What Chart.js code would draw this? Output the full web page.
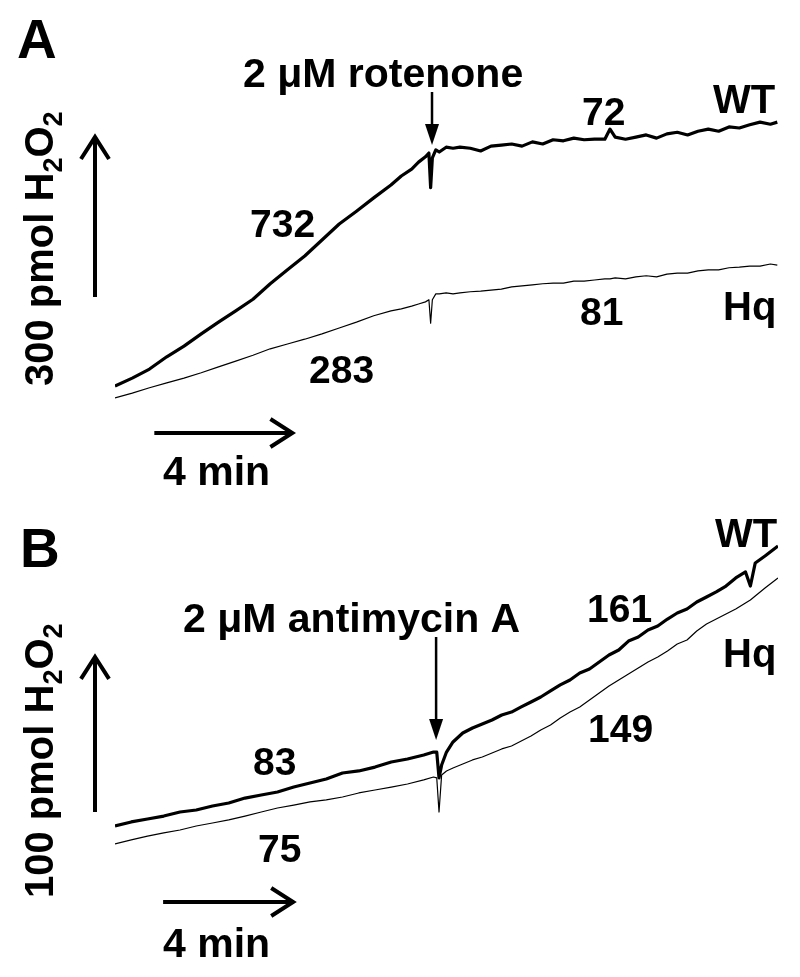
<!DOCTYPE html>
<html>
<head>
<meta charset="utf-8">
<script src="https://cdn.jsdelivr.net/npm/chart.js@4.4.1/dist/chart.umd.min.js"></script>
<style>
  html, body { margin: 0; padding: 0; background: #fff; }
  #figure { position: relative; width: 800px; height: 977px; }
  #figure canvas { position: absolute; left: 0; }
</style>
</head>
<body>
<div id="figure">
  <canvas id="panelA" width="800" height="488" style="top:0"></canvas>
  <canvas id="panelB" width="800" height="489" style="top:488px"></canvas>
</div>
<script>
// Panel A: 2 uM rotenone. Time in min, H2O2 in pmol above the start of the record
const timeA = [0, 0.5, 1, 1.5, 2, 2.5, 3, 3.5, 4, 4.5, 5, 5.5, 6, 6.5, 7, 7.5, 8, 8.3, 8.6, 8.8,
  9.0, 9.1, 9.15, 9.2, 9.3, 9.4, 9.6, 9.8, 10, 10.3, 10.6, 10.9, 11.2, 11.5, 11.8, 12.1, 12.4, 12.7,
  13, 13.3, 13.6, 13.9, 14.2, 14.35, 14.5, 14.8, 15.1, 15.4, 15.7, 16, 16.3, 16.6, 16.9, 17.2, 17.5,
  17.8, 18.1, 18.4, 18.7, 19.0, 19.2];
const wtA = [26, 41, 58, 81, 101, 124, 146, 167, 189, 218, 244, 270, 300, 330, 354, 379, 403, 420, 433, 446,
  456, 463, 398, 454, 469, 465, 474, 472, 474, 472, 467, 476, 478, 480, 476, 484, 480, 488,
  486, 491, 488, 489, 489, 508, 493, 489, 493, 497, 491, 499, 502, 497, 504, 508, 504,
  512, 510, 516, 521, 517, 521];
const hqA = [4, 13, 23, 32, 41, 51, 62, 73, 84, 96, 105, 114, 124, 135, 146, 158, 167, 171, 176, 180,
  184, 188, 144, 188, 199, 199, 201, 199, 201, 203, 204, 206, 208, 212, 214, 216, 218, 219,
  219, 223, 223, 225, 227, 227, 229, 227, 231, 233, 231, 236, 238, 238, 242, 244, 244,
  248, 249, 251, 251, 255, 253];
const rotenoneTime = 9.19;
const rateLabelsA = ['732', '283', '72', '81'];

// Panel B: 2 uM antimycin A
const timeB = [0, 0.5, 1, 1.5, 2, 2.5, 3, 3.5, 4, 4.5, 5, 5.5, 6, 6.5, 7, 7.5, 8, 8.5, 9, 9.5,
  9.8, 9.9, 9.97, 10.05, 10.2, 10.4, 10.7, 11, 11.3, 11.6, 11.9, 12.2, 12.5, 12.8, 13.1, 13.4,
  13.7, 14, 14.3, 14.6, 14.9, 15.2, 15.5, 15.8, 16.1, 16.4, 16.7, 17, 17.3, 17.6, 17.9, 18.2,
  18.5, 18.8, 19.1, 19.4, 19.55, 19.7, 20, 20.2, 20.4];
const wtB = [15.5, 18.1, 20, 21.9, 24.5, 25.8, 28.4, 30.3, 33.5, 35.5, 37.4, 40.6, 43.2, 45.8, 49.7, 51, 53.5, 56.8, 58.7, 61.3,
  63.2, 63.2, 46.5, 54.8, 63.2, 69.7, 75.5, 78.7, 81.3, 83.9, 87.1, 89, 92.3, 95.5, 98.7, 102.6,
  106.5, 109.7, 114.2, 116.8, 121.3, 125.8, 129, 134.8, 137.4, 141.9, 144.5, 149, 152.9, 155.5, 160, 163.2,
  166.5, 170.3, 175.5, 179.4, 170.3, 185.2, 189.7, 192.9, 196.1];
const hqB = [3.9, 6.5, 9, 11, 12.9, 15.5, 17.4, 19.4, 21.9, 24.5, 27.1, 29, 31, 32.3, 34.2, 36.8, 38.7, 40.6, 42.6, 45.2,
  47.1, 46.5, 24.5, 48.4, 51, 52.9, 55.5, 58.1, 60, 62.6, 65.2, 67.1, 70.3, 73.5, 77.4, 80.6,
  85.2, 89, 92.3, 96.8, 101.3, 105.8, 109.7, 113.5, 117.4, 121.3, 124.5, 128.4, 132.9, 135.5, 141.3, 145.8,
  149, 152.3, 155.5, 159.4, 161.3, 163.9, 169, 172.3, 175.5];
const antimycinTime = 9.88;
const rateLabelsB = ['83', '75', '161', '149'];

// scale bars: [start, start + length]
const timeBarA = [1.14, 5.14];
const pmolBarA = [193, 493];
const timeBarB = [1.48, 5.48];
const pmolBarB = [24.5, 124.5];

const FONT = '"Liberation Sans", Arial, Helvetica, sans-serif';

function txt(ctx, s, x, y, size) {
  ctx.font = `bold ${size}px ${FONT}`;
  ctx.fillText(s, x, y);
}

// line ending in an open (chevron) head
function openArrow(ctx, x1, y1, x2, y2) {
  const a = Math.atan2(y2 - y1, x2 - x1), h = 26, w = 0.57;
  ctx.save();
  ctx.lineWidth = 4;
  ctx.lineCap = 'butt';
  ctx.lineJoin = 'miter';
  ctx.beginPath();
  ctx.moveTo(x1, y1);
  ctx.lineTo(x2 - 2 * Math.cos(a), y2 - 2 * Math.sin(a));
  ctx.moveTo(x2 - h * Math.cos(a - w), y2 - h * Math.sin(a - w));
  ctx.lineTo(x2, y2);
  ctx.lineTo(x2 - h * Math.cos(a + w), y2 - h * Math.sin(a + w));
  ctx.stroke();
  ctx.restore();
}

// addition marker: thin line with a solid head pointing down
function dropArrow(ctx, x, yTop, yTip) {
  ctx.save();
  ctx.lineWidth = 2.5;
  ctx.beginPath();
  ctx.moveTo(x, yTop);
  ctx.lineTo(x, yTip - 18);
  ctx.stroke();
  ctx.beginPath();
  ctx.moveTo(x - 7, yTip - 21);
  ctx.lineTo(x + 7, yTip - 21);
  ctx.lineTo(x, yTip);
  ctx.closePath();
  ctx.fill();
  ctx.restore();
}

// vertical "N pmol H2O2" label, reading bottom to top
function yLabel(ctx, amount, x, y) {
  ctx.save();
  ctx.translate(x, y);
  ctx.rotate(-Math.PI / 2);
  const big = `bold 40px ${FONT}`, small = `bold 27px ${FONT}`;
  let cx = 0;
  const parts = [[amount + ' pmol H', big, 0], ['2', small, 9], ['O', big, 0], ['2', small, 9]];
  parts.forEach(([s, f, dy]) => {
    ctx.font = f;
    ctx.fillText(s, cx, dy);
    cx += ctx.measureText(s).width;
  });
  ctx.restore();
}

function traceChart(id, times, wt, hq, xMax, yMax, padding, decorate) {
  const pts = arr => times.map((t, i) => ({ x: t, y: arr[i] }));
  return new Chart(document.getElementById(id), {
    type: 'line',
    data: {
      datasets: [
        { label: 'WT', data: pts(wt), borderColor: '#000', borderWidth: 3.2, pointRadius: 0,
          tension: 0, borderJoinStyle: 'round' },
        { label: 'Hq', data: pts(hq), borderColor: '#000', borderWidth: 1.2, pointRadius: 0,
          tension: 0, borderJoinStyle: 'round' }
      ]
    },
    options: {
      responsive: false,
      animation: false,
      layout: { padding },
      plugins: { legend: { display: false }, tooltip: { enabled: false } },
      scales: {
        x: { type: 'linear', display: false, min: 0, max: xMax },
        y: { type: 'linear', display: false, min: 0, max: yMax }
      }
    },
    plugins: [{
      id: 'decor',
      afterDraw(chart) {
        const ctx = chart.ctx;
        ctx.save();
        ctx.fillStyle = '#000';
        ctx.strokeStyle = '#000';
        ctx.textBaseline = 'alphabetic';
        decorate(ctx, chart.scales.x, chart.scales.y);
        ctx.restore();
      }
    }]
  });
}

traceChart('panelA', timeA, wtA, hqA, 19.22, 600,
  { left: 115, right: 22, top: 80, bottom: 88 },
  (ctx, xs, ys) => {
    txt(ctx, 'A', 17, 58, 55);
    yLabel(ctx, '300', 53, 386);
    openArrow(ctx, 95, ys.getPixelForValue(pmolBarA[0]), 95, ys.getPixelForValue(pmolBarA[1]));
    openArrow(ctx, xs.getPixelForValue(timeBarA[0]), 433, xs.getPixelForValue(timeBarA[1]), 433);
    txt(ctx, '4 min', 163, 485, 41);
    txt(ctx, '2 \u03bcM rotenone', 243, 87, 41);
    dropArrow(ctx, xs.getPixelForValue(rotenoneTime), 92, 145);
    txt(ctx, rateLabelsA[0], 250, 237, 39);
    txt(ctx, rateLabelsA[1], 309, 383, 39);
    txt(ctx, rateLabelsA[2], 582, 125, 39);
    txt(ctx, rateLabelsA[3], 580, 325, 39);
    txt(ctx, 'WT', 713, 113, 40);
    txt(ctx, 'Hq', 723, 320, 40);
  });

traceChart('panelB', timeB, wtB, hqB, 20.4, 200,
  { left: 115, right: 22, top: 52, bottom: 127 },
  (ctx, xs, ys) => {
    txt(ctx, 'B', 20, 79, 55);
    yLabel(ctx, '100', 53, 410);
    openArrow(ctx, 95, ys.getPixelForValue(pmolBarB[0]), 95, ys.getPixelForValue(pmolBarB[1]));
    openArrow(ctx, xs.getPixelForValue(timeBarB[0]), 414, xs.getPixelForValue(timeBarB[1]), 414);
    txt(ctx, '4 min', 163, 469, 41);
    txt(ctx, '2 \u03bcM antimycin A', 183, 144, 41);
    dropArrow(ctx, xs.getPixelForValue(antimycinTime), 149, 252);
    txt(ctx, rateLabelsB[0], 253, 287, 39);
    txt(ctx, rateLabelsB[1], 258, 374, 39);
    txt(ctx, rateLabelsB[2], 587, 134, 39);
    txt(ctx, rateLabelsB[3], 588, 254, 39);
    txt(ctx, 'WT', 715, 59, 40);
    txt(ctx, 'Hq', 723, 179, 40);
  });
</script>
</body>
</html>
